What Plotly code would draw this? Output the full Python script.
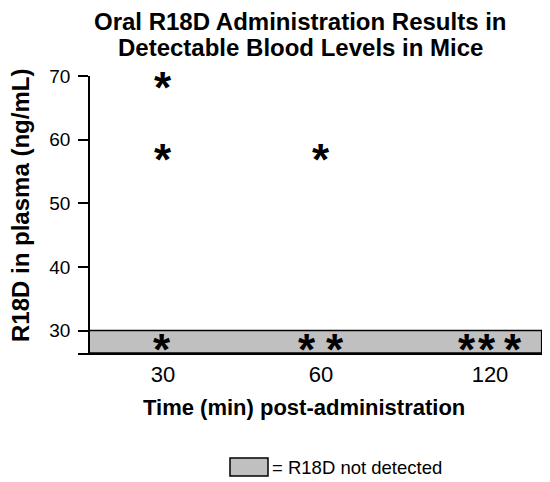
import plotly.graph_objects as go

# ---- data ----
time_labels = ["30", "60", "120"]
time_pos = [1.0, 1.966, 3.0]              # category positions on x axis
# detected plasma levels (ng/mL)
det_x = [1.0, 1.0, 1.966]
det_y = [69.2, 57.8, 57.8]
# not-detected samples (drawn inside the grey band)
nd_x = [0.992, 1.879, 2.052, 2.857, 2.98, 3.143]
nd_level = 28.0
nd_y = [nd_level] * len(nd_x)
lod = 30.0                                 # detection limit (top of band)
y_min, y_max = 26.47, 70
x_min, x_max = 0.48, 3.3425
band_x = [0.5474, 3.316]
y_ticks = [30, 40, 50, 60, 70]

FONT = "Liberation Sans, Arial, sans-serif"
STAR_SIZE = 44
PW, PH = 468, 277          # plot area size in px
BOTTOM = 353               # plot bottom (page px)
LEFT = 78                  # plot left (page px)


def px(xp):
    return (xp - LEFT) / PW


def py(yp):
    return (BOTTOM - yp) / PH


fig = go.Figure()
fig.add_shape(type="rect", xref="x", yref="y",
              x0=band_x[0], x1=band_x[1], y0=y_min, y1=lod,
              fillcolor="#c0c0c0", line=dict(color="black", width=1.5), layer="below")

# invisible trace to set up the axes
fig.add_trace(go.Scatter(x=det_x + nd_x, y=det_y + nd_y, mode="markers",
                         marker=dict(opacity=0), showlegend=False, hoverinfo="skip"))

for xv, yv in zip(det_x + nd_x, det_y + nd_y):
    fig.add_annotation(x=xv, y=yv, xref="x", yref="y", text="<b>*</b>", showarrow=False,
                       xanchor="center", yanchor="middle", yshift=-6,
                       font=dict(family=FONT, size=STAR_SIZE, color="black"))

fig.update_layout(
    width=542, height=474,
    margin=dict(l=LEFT - 8, r=4, t=BOTTOM - PH - 8, b=474 - (BOTTOM - 8), autoexpand=False),
    paper_bgcolor="white", plot_bgcolor="white",
    showlegend=False,
    font=dict(family=FONT, color="black"),
    xaxis=dict(range=[x_min, x_max], tickvals=time_pos, ticktext=time_labels,
               showline=True, linecolor="black", linewidth=1.5, ticks="",
               ticklabelstandoff=1,
               showgrid=False, zeroline=False, tickfont=dict(size=22), fixedrange=True),
    yaxis=dict(range=[y_min, y_max], tickvals=y_ticks, anchor="free", position=0.0235,
               showline=True, linecolor="black", linewidth=1.5, ticks="outside",
               ticklen=10, tickwidth=1.5, tickcolor="black", ticklabelstandoff=4,
               showgrid=False, zeroline=False, tickfont=dict(size=19)),
)

# titles
fig.add_annotation(text="<b>Oral R18D Administration Results in</b>",
                   xref="paper", yref="paper", x=px(300), y=py(22),
                   xanchor="center", yanchor="middle", showarrow=False,
                   font=dict(size=24, family=FONT))
fig.add_annotation(text="<b>Detectable Blood Levels in Mice</b>",
                   xref="paper", yref="paper", x=px(300), y=py(47),
                   xanchor="center", yanchor="middle", showarrow=False,
                   font=dict(size=24, family=FONT))
fig.add_annotation(text="<b>R18D in plasma (ng/mL)</b>", textangle=-90,
                   xref="paper", yref="paper", x=px(20), y=py(206),
                   xanchor="center", yanchor="middle", showarrow=False,
                   font=dict(size=24, family=FONT))
fig.add_annotation(text="<b>Time (min) post-administration</b>",
                   xref="paper", yref="paper", x=px(304), y=py(407),
                   xanchor="center", yanchor="middle", showarrow=False,
                   font=dict(size=22, family=FONT))

# legend
fig.add_shape(type="rect", xref="paper", yref="paper",
              x0=px(230), x1=px(268), y0=py(476), y1=py(458),
              fillcolor="#c0c0c0", line=dict(color="black", width=1.5))
fig.add_annotation(text="= R18D not detected", xref="paper", yref="paper",
                   x=px(270), y=py(467),
                   xanchor="left", yanchor="middle", showarrow=False,
                   font=dict(size=18.5, family=FONT))

fig.write_html("out.html")
